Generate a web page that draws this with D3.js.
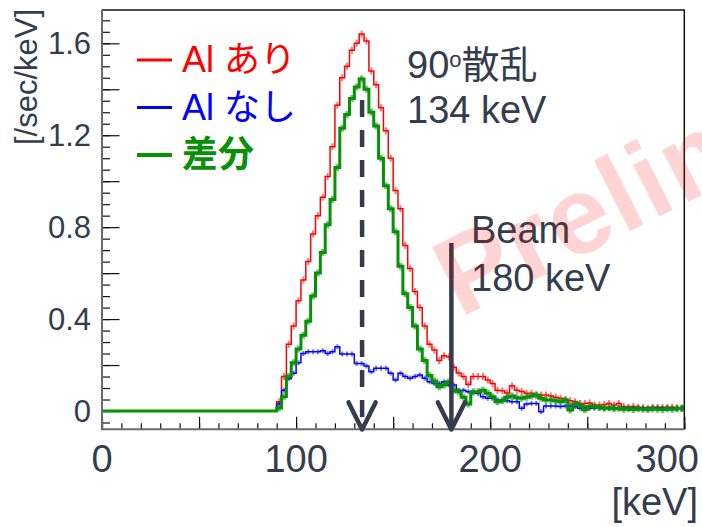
<!DOCTYPE html>
<html>
<head>
<meta charset="utf-8">
<script src="https://cdn.jsdelivr.net/npm/d3@7"></script>
<style>
  body { margin: 0; background: #fff; }
  text { font-family: "Liberation Sans", Arial, "Noto Sans CJK JP", sans-serif; }
</style>
</head>
<body>
<svg id="chart" width="702" height="527"></svg>
<script>
// energy spectrum, 2.5 keV bins from 0 keV, rate in /sec/keV
const binWidth = 2.5;

const withAl = [
  0, 0, 0, 0, 0, 0, 0, 0, 0, 0,
  0, 0, 0, 0, 0, 0, 0, 0, 0, 0,
  0, 0, 0, 0, 0, 0, 0, 0, 0, 0,
  0, 0, 0, 0, 0, 0, 0.04, 0.15, 0.29, 0.37,
  0.48, 0.57, 0.65, 0.77, 0.85, 0.93, 1.02, 1.15, 1.33, 1.45,
  1.50, 1.57, 1.60, 1.64, 1.61, 1.48, 1.42, 1.32, 1.22, 1.10,
  0.96, 0.88, 0.72, 0.62, 0.52, 0.45, 0.37, 0.29, 0.265, 0.22,
  0.24, 0.235, 0.19, 0.165, 0.15, 0.115, 0.15, 0.15, 0.15, 0.135,
  0.12, 0.09, 0.088, 0.078, 0.11, 0.09, 0.085, 0.077, 0.077, 0.07,
  0.07, 0.07, 0.065, 0.06, 0.055, 0.05, 0.045, 0.04, 0.033, 0.033,
  0.035, 0.026, 0.026, 0.028, 0.033, 0.026, 0.033, 0.02, 0.016, 0.02,
  0.016, 0.014, 0.012, 0.016, 0.016, 0.015, 0.016, 0.016, 0.014, 0.012
];

const withoutAl = [
  0, 0, 0, 0, 0, 0, 0, 0, 0, 0,
  0, 0, 0, 0, 0, 0, 0, 0, 0, 0,
  0, 0, 0, 0, 0, 0, 0, 0, 0, 0,
  0, 0, 0, 0, 0, 0, 0.03, 0.09, 0.14, 0.164,
  0.21, 0.25, 0.258, 0.258, 0.258, 0.262, 0.25, 0.258, 0.28, 0.248,
  0.248, 0.248, 0.207, 0.207, 0.196, 0.171, 0.186, 0.186, 0.186, 0.164,
  0.135, 0.164, 0.15, 0.142, 0.15, 0.157, 0.142, 0.127, 0.12, 0.12,
  0.127, 0.113, 0.113, 0.09, 0.09, 0.084, 0.08, 0.077, 0.062, 0.055,
  0.055, 0.048, 0.048, 0.045, 0.04, 0.04, 0.012, 0.03, 0.033, 0.033,
  -0.003, 0.022, 0.022, 0.022, 0.02, 0.022, 0.022, 0.019, 0.012, 0.014,
  0.012, 0.013, 0.012, 0.011, 0.012, 0.013, 0.012, 0.011, 0.012, 0.013,
  0.012, 0.012, 0.011, 0.012, 0.013, 0.012, 0.012, 0.011, 0.012, 0.012
];

const difference = [
  0, 0, 0, 0, 0, 0, 0, 0, 0, 0,
  0, 0, 0, 0, 0, 0, 0, 0, 0, 0,
  0, 0, 0, 0, 0, 0, 0, 0, 0, 0,
  0, 0, 0, 0, 0, 0, 0.013, 0.062, 0.15, 0.21,
  0.27, 0.33, 0.39, 0.50, 0.60, 0.69, 0.81, 0.92, 1.06, 1.23,
  1.29, 1.36, 1.41, 1.445, 1.40, 1.30, 1.24, 1.10, 0.98, 0.88,
  0.78, 0.63, 0.51, 0.45, 0.37, 0.27, 0.22, 0.155, 0.13, 0.106,
  0.113, 0.127, 0.09, 0.084, 0.06, 0.03, 0.084, 0.084, 0.09, 0.077,
  0.062, 0.04, 0.045, 0.06, 0.065, 0.058, 0.055, 0.06, 0.065, 0.07,
  0.055, 0.048, 0.048, 0.045, 0.04, 0.048, 0.004, 0.03, 0.026, 0.005,
  0.02, 0.019, 0.015, 0.012, 0.014, 0.01, 0.012, 0.008, 0.01, 0.006,
  0.01, 0.008, 0.006, 0.01, 0.008, 0.006, 0.01, 0.008, 0.01, 0.012
];

const yTickLabels = [0, 0.4, 0.8, 1.2, 1.6];
const xTickLabels = [0, 100, 200, 300];
const legendNames = ["Al あり", "Al なし", "差分"];
const peakEnergy = 134;   // 90 deg scattering
const beamEnergy = 180;

const ink = "#333d4d";
const colors = {red: "#ff0000", blue: "#0000ff", green: "#079107"};

const svg = d3.select("#chart");
const frame = {left: 102, right: 684.3, top: 10, bottom: 429.3};

const x = d3.scaleLinear().domain([0, 300]).range([frame.left, frame.right]);
const y = d3.scaleLinear().domain([0, 1.6]).range([411, 43.3]);

svg.append("defs").append("clipPath").attr("id", "plotclip")
    .append("rect")
    .attr("x", frame.left).attr("y", frame.top)
    .attr("width", frame.right - frame.left)
    .attr("height", frame.bottom - frame.top);

// ---- axes ----
const yMinor = d3.axisLeft(y).tickValues(d3.range(-0.05, 1.71, 0.05)).tickSize(-8).tickFormat("");
const yMajor = d3.axisLeft(y).tickValues(d3.range(0, 1.61, 0.2)).tickSize(-17.5).tickFormat("");
const xMinor = d3.axisBottom(x).tickValues(d3.range(0, 301, 10)).tickSize(-6).tickFormat("");
const xMajor = d3.axisBottom(x).tickValues(d3.range(0, 301, 50)).tickSize(-12.5).tickFormat("");

[yMinor, yMajor].forEach(ax => {
    svg.append("g").attr("transform", `translate(${frame.left},0)`).call(ax)
        .call(g => g.select(".domain").remove())
        .call(g => g.selectAll("line").attr("stroke", "#111").attr("stroke-width", 1.2));
});
[xMinor, xMajor].forEach(ax => {
    svg.append("g").attr("transform", `translate(0,${frame.bottom})`).call(ax)
        .call(g => g.select(".domain").remove())
        .call(g => g.selectAll("line").attr("stroke", "#111").attr("stroke-width", 1.2));
});

svg.selectAll(".ylab").data(yTickLabels).enter()
    .append("text")
    .attr("class", "ylab")
    .attr("x", 91)
    .attr("y", d => y(d))
    .attr("dy", "0.36em")
    .attr("text-anchor", "end")
    .attr("fill", ink)
    .style("font-size", "31px")
    .text(d => d === 0 ? "0" : d.toFixed(1));

svg.selectAll(".xlab").data(xTickLabels).enter()
    .append("text")
    .attr("class", "xlab")
    .attr("x", d => d === 300 ? 699 : x(d))
    .attr("y", 472)
    .attr("text-anchor", d => d === 300 ? "end" : "middle")
    .attr("fill", ink)
    .style("font-size", "38px")
    .text(d => d);

svg.append("text")
    .attr("transform", "translate(37,77) rotate(-90)")
    .attr("text-anchor", "middle")
    .attr("fill", ink)
    .style("font-size", "31px")
    .text("[/sec/keV]");

svg.append("text")
    .attr("x", 698).attr("y", 515)
    .attr("text-anchor", "end")
    .attr("fill", ink)
    .style("font-size", "38px")
    .text("[keV]");

// ---- histograms ----
const plot = svg.append("g").attr("clip-path", "url(#plotclip)");

const stepPath = vals => {
    const pts = [];
    vals.forEach((v, i) => {
        pts.push([x(i * binWidth), y(v)], [x((i + 1) * binWidth), y(v)]);
    });
    return d3.line()(pts);
};

const series = [
    {vals: withAl, color: colors.red, width: 1.5, err: 3.5},
    {vals: withoutAl, color: colors.blue, width: 1.5, err: 2.5},
    {vals: difference, color: colors.green, width: 3, err: 3.5}
];

series.forEach(s => {
    const bars = s.vals.map((v, i) => ({v, i})).filter(d => d.v !== 0);
    plot.selectAll(null).data(bars).enter()
        .append("line")
        .attr("x1", d => x((d.i + 0.5) * binWidth))
        .attr("x2", d => x((d.i + 0.5) * binWidth))
        .attr("y1", d => y(d.v) - s.err)
        .attr("y2", d => y(d.v) + s.err)
        .attr("stroke", s.color)
        .attr("stroke-opacity", 0.55)
        .attr("stroke-width", s.width + 0.5);
    plot.append("path")
        .attr("d", stepPath(s.vals))
        .attr("fill", "none")
        .attr("stroke", s.color)
        .attr("stroke-width", s.width);
});

// ---- frame ----
svg.append("path")
    .attr("d", `M${frame.left},${frame.top}H${frame.right}V${frame.bottom}`)
    .attr("fill", "none").attr("stroke", "#111").attr("stroke-width", 1.5);
svg.append("path")
    .attr("d", `M${frame.left},${frame.top}V${frame.bottom}H${frame.right}`)
    .attr("fill", "none").attr("stroke", "#6a6a6a").attr("stroke-width", 2);

// ---- arrows ----
const arrowBottom = -0.08;
const arrows = [
    {e: peakEnergy, top: 1.353, dash: "17,13"},
    {e: beamEnergy, top: 0.731, dash: null}
];
arrows.forEach(a => {
    const ax = x(a.e);
    svg.append("line")
        .attr("x1", ax).attr("x2", ax)
        .attr("y1", y(a.top)).attr("y2", y(arrowBottom) - 2)
        .attr("stroke", ink).attr("stroke-width", 4.5)
        .attr("stroke-dasharray", a.dash);
    svg.append("path")
        .attr("d", d3.line()([[ax - 13.5, y(arrowBottom) - 27], [ax, y(arrowBottom)], [ax + 13.5, y(arrowBottom) - 27]]))
        .attr("fill", "none").attr("stroke", ink).attr("stroke-width", 4.5)
        .attr("stroke-linecap", "round").attr("stroke-linejoin", "round");
});

// ---- legend ----
const legendColors = [colors.red, colors.blue, colors.green];
const legend = svg.append("g");
legendNames.forEach((name, i) => {
    const by = 72 + i * 47.5;
    legend.append("line")
        .attr("x1", 137).attr("x2", 172)
        .attr("y1", by - 12).attr("y2", by - 12)
        .attr("stroke", legendColors[i]).attr("stroke-width", i === 2 ? 4 : 3);
    legend.append("text")
        .attr("x", 182).attr("y", by)
        .attr("fill", legendColors[i])
        .style("font-size", "36px")
        .style("font-weight", i === 2 ? "bold" : "normal")
        .text(name);
});

// ---- annotations ----
const t1 = svg.append("text").attr("x", 407).attr("y", 78).attr("fill", ink).style("font-size", "38px");
t1.append("tspan").text("90");
t1.append("tspan").attr("dy", "-0.5em").style("font-size", "22px").text("o");
t1.append("tspan").attr("dy", "0.29em").style("font-size", "38px").text("散乱");
svg.append("text").attr("x", 407).attr("y", 123).attr("fill", ink).style("font-size", "38px").text("134 keV");
svg.append("text").attr("x", 471).attr("y", 243).attr("fill", ink).style("font-size", "38px").text("Beam");
svg.append("text").attr("x", 471).attr("y", 291).attr("fill", ink).style("font-size", "38px").text("180 keV");

// ---- watermark ----
svg.append("text")
    .attr("transform", "translate(460,318) rotate(-27)")
    .attr("fill", "#ff0000").attr("fill-opacity", 0.17)
    .style("font-size", "110px").style("font-weight", "bold")
    .style("letter-spacing", "2px")
    .text("Preliminary");
</script>
</body>
</html>
